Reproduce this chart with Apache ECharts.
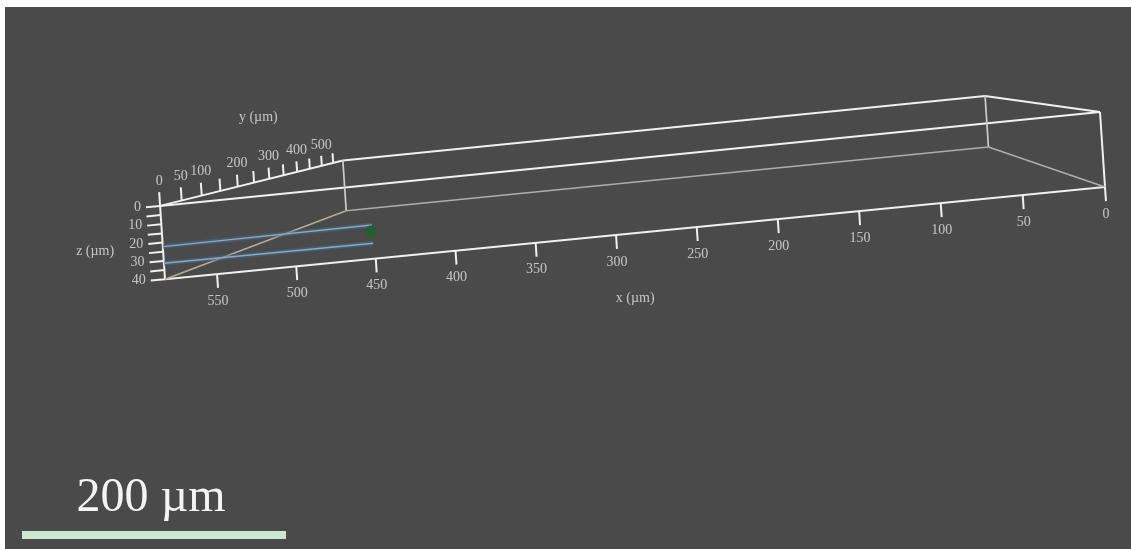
<!DOCTYPE html>
<html>
<head>
<meta charset="utf-8">
<title>Track volume</title>
<script src="https://cdn.jsdelivr.net/npm/echarts@6/dist/echarts.min.js"></script>
<style>
  html, body { margin: 0; padding: 0; background: #ffffff; }
  #chart { width: 1131px; height: 549px; }
</style>
</head>
<body>
<div id="chart"></div>
<script>
// Volume extent, µm
const X_RANGE = [0, 583];
const Y_RANGE = [0, 595];
const Z_RANGE = [0, 40];

// Axis ticks, µm
const X_TICKS = [0, 50, 100, 150, 200, 250, 300, 350, 400, 450, 500, 550];
const Y_TICKS = [0, 50, 100, 150, 200, 250, 300, 350, 400, 450, 500, 550];
const Y_TICK_LABELS = [0, 50, 100, 200, 300, 400, 500];
const Z_TICKS = [0, 5, 10, 15, 20, 25, 30, 35, 40];
const Z_TICK_LABELS = [0, 10, 20, 30, 40];

// Channel walls (x from, x to) at y = TRACK_Y, with their depth z, µm
const TRACK_X = [583, 451];
const TRACK_Y = 0;
const TRACK_UPPER_Z = [22.2, 21.7];
const TRACK_LOWER_Z = [31.3, 31.6];

// Detected cell (x, y, z), µm
const CELL_X = [452];
const CELL_Y = [0];
const CELL_Z = [25.3];

// Perspective camera: screen = (origin + M·p) / (1 + W·p)
const CAM = {
  u0: 1100, v0: 112,
  ux: -1.606, vx: 0.169,
  uy: 0.585, vy: 0.0489,
  uz: 0.125, vz: 1.875,
  wx: 3.87e-5, wy: 7.9e-4, wz: 0
};

function project(x, y, z) {
  const w = 1 + CAM.wx * x + CAM.wy * y + CAM.wz * z;
  return [
    (CAM.u0 + CAM.ux * x + CAM.uy * y + CAM.uz * z) / w,
    (CAM.v0 + CAM.vx * x + CAM.vy * y + CAM.vz * z) / w
  ];
}

const [x0, x1] = X_RANGE;
const [y0, y1] = Y_RANGE;
const [z0, z1] = Z_RANGE;

const STYLE = {
  bright: { color: '#f0f0f0', width: 2, opacity: 1 },
  mid: { color: '#cdcdcd', width: 1.7, opacity: 1 },
  dim: { color: '#adadad', width: 1.6, opacity: 1 },
  tan: { color: '#b6aa9a', width: 1.6, opacity: 1 }
};

// Box edges as 3D segments
const EDGES = [
  [[x1, y0, z0], [x0, y0, z0], 'bright'],
  [[x1, y0, z1], [x0, y0, z1], 'bright'],
  [[x1, y0, z0], [x1, y0, z1], 'bright'],
  [[x0, y0, z0], [x0, y0, z1], 'bright'],
  [[x1, y0, z0], [x1, y1, z0], 'bright'],
  [[x0, y0, z0], [x0, y1, z0], 'bright'],
  [[x1, y1, z0], [x0, y1, z0], 'bright'],
  [[x1, y1, z0], [x1, y1, z1], 'mid'],
  [[x0, y1, z0], [x0, y1, z1], 'mid'],
  [[x1, y1, z1], [x0, y1, z1], 'dim'],
  [[x0, y0, z1], [x0, y1, z1], 'dim'],
  [[x1, y0, z1], [x1, y1, z1], 'tan']
];

const TICK_LEN = 7.5;   // µm
const edgeData = EDGES.map(([a, b, s]) => ({
  coords: [project(...a), project(...b)],
  lineStyle: STYLE[s]
}));

const tickData = [];
X_TICKS.forEach(x => tickData.push({ coords: [project(x, y0, z1), project(x, y0, z1 + TICK_LEN)] }));
Y_TICKS.forEach(y => tickData.push({ coords: [project(x1, y, z0), project(x1, y, z0 - TICK_LEN)] }));
Z_TICKS.forEach(z => tickData.push({ coords: [project(x1, y0, z), project(x1 + 9, y0, z)] }));

const xLabelData = X_TICKS.map(x => [...project(x, y0, z1 + TICK_LEN), String(x)]);
const yLabelData = Y_TICK_LABELS.map(y => [...project(x1, y, z0 - TICK_LEN), String(y)]);
const zLabelData = Z_TICK_LABELS.map(z => [...project(x1 + 9, y0, z), String(z)]);

const LABEL_FONT = { fontFamily: 'Liberation Serif, Times New Roman, serif', fontSize: 14, color: '#e2e2e2' };

function labelSeries(data, position, distance) {
  return {
    type: 'scatter', data, symbolSize: 0, silent: true, z: 5,
    label: Object.assign({ show: true, position, distance, formatter: p => p.value[2] }, LABEL_FONT)
  };
}

function titleSeries(anchor, text, offset) {
  return {
    type: 'scatter', data: [[...project(...anchor), text]], symbolSize: 0, silent: true, z: 5,
    label: Object.assign({ show: true, position: 'inside', offset, formatter: p => p.value[2] }, LABEL_FONT)
  };
}

function trackSeries(zs) {
  const pts = TRACK_X.map((x, i) => project(x, TRACK_Y, zs[i]));
  return [
    { type: 'line', data: pts, symbol: 'none', silent: true, z: 3,
      lineStyle: { color: '#4a6782', width: 5, opacity: 0.5 } },
    { type: 'line', data: pts, symbol: 'none', silent: true, z: 4,
      lineStyle: { color: '#86abcd', width: 1.4 } }
  ];
}

const option = {
  backgroundColor: '#4a4a4a',
  animation: false,
  grid: { left: 0, right: 0, top: 0, bottom: 0, containLabel: false },
  xAxis: { type: 'value', min: 0, max: 1131, show: false },
  yAxis: { type: 'value', min: 0, max: 549, inverse: true, show: false },
  series: [
    { type: 'lines', coordinateSystem: 'cartesian2d', data: edgeData, silent: true, z: 2 },
    { type: 'lines', coordinateSystem: 'cartesian2d', data: tickData, silent: true, z: 2,
      lineStyle: { color: '#f0f0f0', width: 2, opacity: 1 } },
    ...trackSeries(TRACK_UPPER_Z),
    ...trackSeries(TRACK_LOWER_Z),
    { type: 'scatter', silent: true, z: 5, symbolSize: [11, 13],
      data: CELL_X.map((x, i) => project(x, CELL_Y[i], CELL_Z[i])),
      itemStyle: { color: '#1b6329' } },
    labelSeries(xLabelData, 'bottom', 6),
    labelSeries(yLabelData, 'top', 4),
    labelSeries(zLabelData, 'left', 5),
    titleSeries([290, y0, z1], 'x (µm)', [3, 65]),
    titleSeries([x1, 300, z0], 'y (µm)', [-11, -61]),
    titleSeries([x1, y0, 25], 'z (µm)', [-68, 0])
  ],
  graphic: [
    { type: 'rect', shape: { x: 0, y: 0, width: 1131, height: 7 }, style: { fill: '#ffffff' }, silent: true },
    { type: 'rect', shape: { x: 0, y: 0, width: 5, height: 549 }, style: { fill: '#ffffff' }, silent: true },
    { type: 'rect', shape: { x: 22, y: 531, width: 264, height: 8 }, style: { fill: '#cde8d2' }, silent: true },
    { type: 'text', x: 151, y: 498, silent: true,
      style: { text: '200 µm', fill: '#f4f4f4', font: '48px "Liberation Serif", "Times New Roman", serif',
               textAlign: 'center', textVerticalAlign: 'middle' } }
  ]
};

echarts.init(document.getElementById('chart')).setOption(option);
</script>
</body>
</html>
